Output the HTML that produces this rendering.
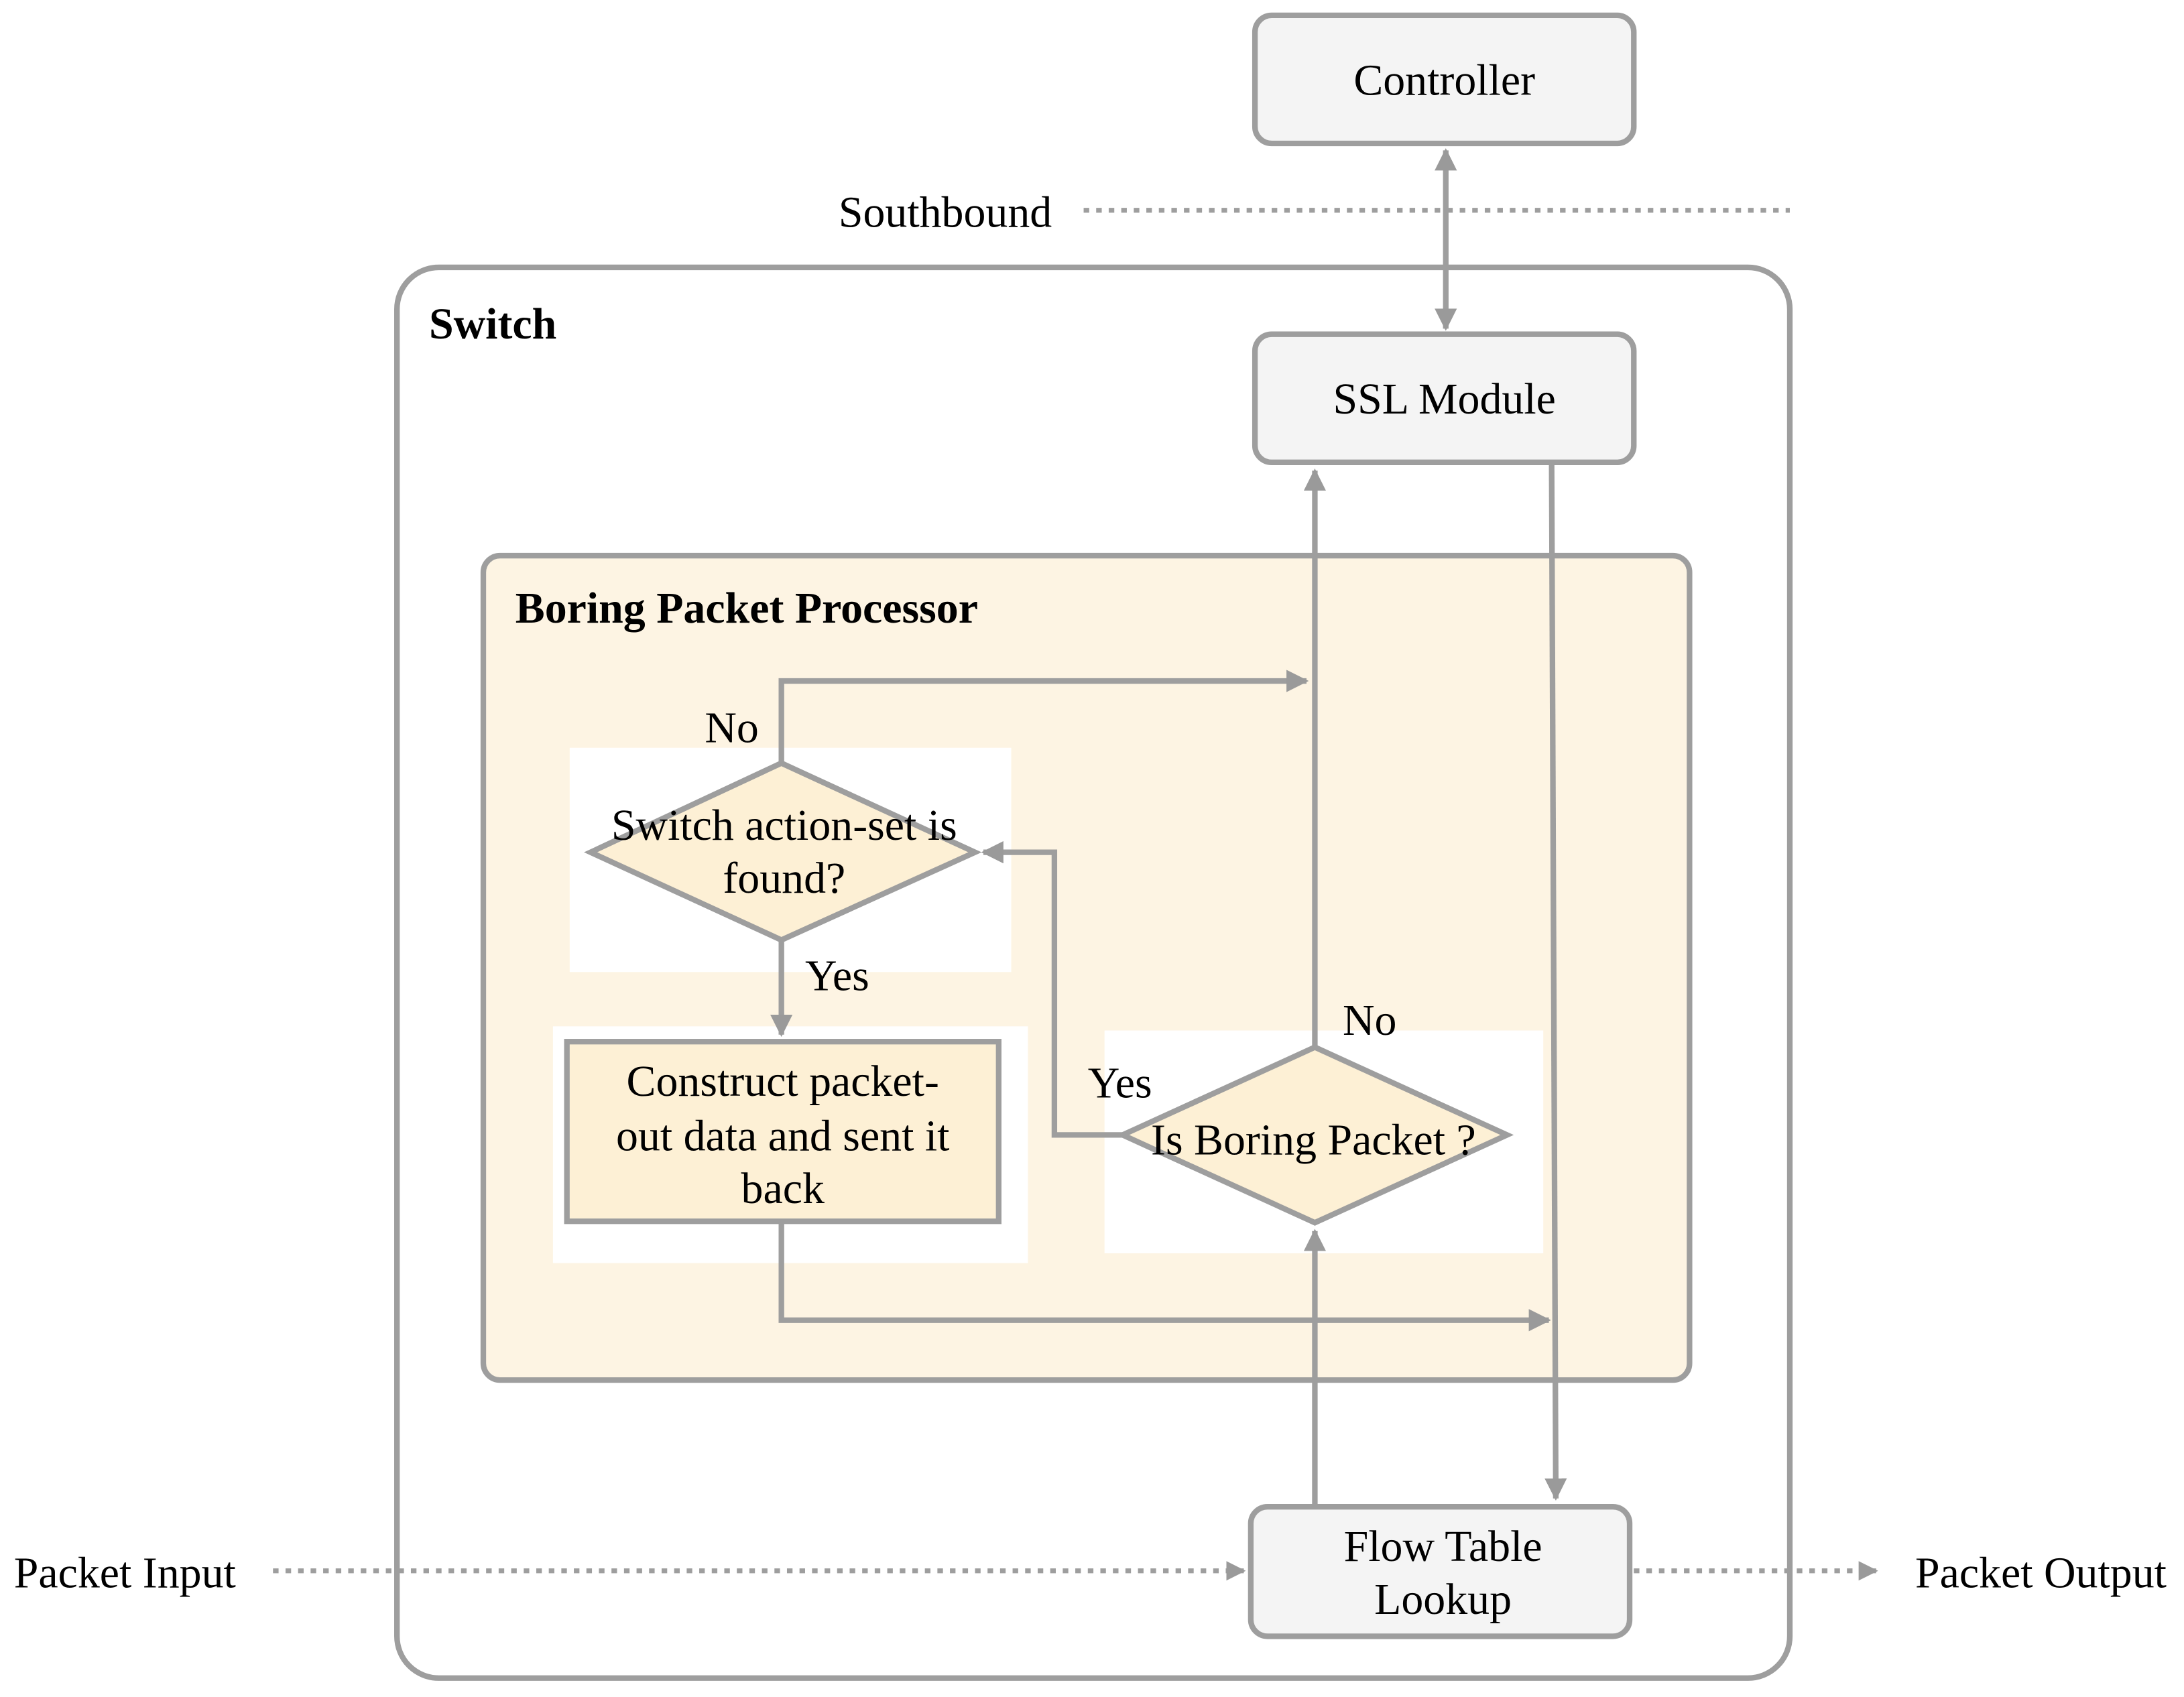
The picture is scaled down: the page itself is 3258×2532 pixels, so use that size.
<!DOCTYPE html>
<html><head><meta charset="utf-8"><style>
html,body{margin:0;padding:0;background:#fff;}
svg{display:block;}
text{font-family:"Liberation Serif",serif;font-size:31.7px;fill:#000;}
</style></head><body>
<svg width="3258" height="2532" viewBox="0 0 1568 1218.6" xmlns="http://www.w3.org/2000/svg">
<defs>
<marker id="a" viewBox="0 0 10 10" refX="9" refY="5" markerWidth="4" markerHeight="4" orient="auto-start-reverse" markerUnits="strokeWidth"><path d="M0,0 L10,5 L0,10 z" fill="#9a9a9a"/></marker>
</defs>
<g stroke="#9e9e9e" stroke-width="4" fill="none">
<rect x="901" y="11" width="272" height="92" rx="12" fill="#f4f4f4"/>
<line x1="778" y1="151" x2="1285" y2="151" stroke-dasharray="4,5" stroke-width="3.5"/>
<rect x="285" y="192" width="1000" height="1013" rx="30" fill="#fff"/>
<line x1="1038" y1="108" x2="1038" y2="236" marker-start="url(#a)" marker-end="url(#a)"/>
<rect x="901" y="240" width="272" height="92" rx="12" fill="#f4f4f4"/>
<rect x="347" y="399" width="866" height="592" rx="12" fill="#fdf4e3"/>
<rect x="397" y="737" width="341" height="170" fill="#fff" stroke="none"/>
<rect x="409" y="537" width="317" height="161" fill="#fff" stroke="none"/>
<rect x="793" y="740" width="315" height="160" fill="#fff" stroke="none"/>
<line x1="1114" y1="334" x2="1117" y2="1076" marker-end="url(#a)"/>
<line x1="944" y1="752" x2="944" y2="338" marker-end="url(#a)"/>
<polyline points="561,548 561,489 938,489" marker-end="url(#a)"/>
<line x1="561" y1="675" x2="561" y2="743" marker-end="url(#a)"/>
<polyline points="561,877 561,948 1112,948" marker-end="url(#a)"/>
<polyline points="806,815 757,815 757,612 706,612" marker-end="url(#a)"/>
<line x1="944" y1="1080" x2="944" y2="884" marker-end="url(#a)"/>
<polygon points="424,612 561,548 700,612 561,675" fill="#fdf0d5"/>
<rect x="407" y="748" width="310" height="129" fill="#fdf0d5"/>
<polygon points="806,815 944,752 1082,815 944,878" fill="#fdf0d5"/>
<rect x="898" y="1082" width="272" height="93" rx="12" fill="#f4f4f4"/>
<line x1="196" y1="1128" x2="893" y2="1128" stroke-dasharray="4,5" stroke-width="3.5" marker-end="url(#a)"/>
<line x1="1173" y1="1128" x2="1347" y2="1128" stroke-dasharray="4,5" stroke-width="3.5" marker-end="url(#a)"/>
</g>
<text x="1037" y="68" text-anchor="middle">Controller</text>
<text x="602" y="163">Southbound</text>
<text x="308" y="243" font-weight="bold">Switch</text>
<text x="1037" y="297" text-anchor="middle">SSL Module</text>
<text x="370" y="447" font-weight="bold">Boring Packet Processor</text>
<text x="506" y="533">No</text>
<text x="563" y="603" text-anchor="middle">Switch action-set is</text>
<text x="563" y="641" text-anchor="middle">found?</text>
<text x="578" y="711">Yes</text>
<text x="562" y="787" text-anchor="middle">Construct packet-</text>
<text x="562" y="826" text-anchor="middle">out data and sent it</text>
<text x="562" y="864" text-anchor="middle">back</text>
<text x="964" y="743">No</text>
<text x="781" y="788">Yes</text>
<text x="943" y="829" text-anchor="middle">Is Boring Packet ?</text>
<text x="1036" y="1121" text-anchor="middle">Flow Table</text>
<text x="1036" y="1159" text-anchor="middle">Lookup</text>
<text x="10" y="1140">Packet Input</text>
<text x="1375" y="1140">Packet Output</text>
</svg>
</body></html>
